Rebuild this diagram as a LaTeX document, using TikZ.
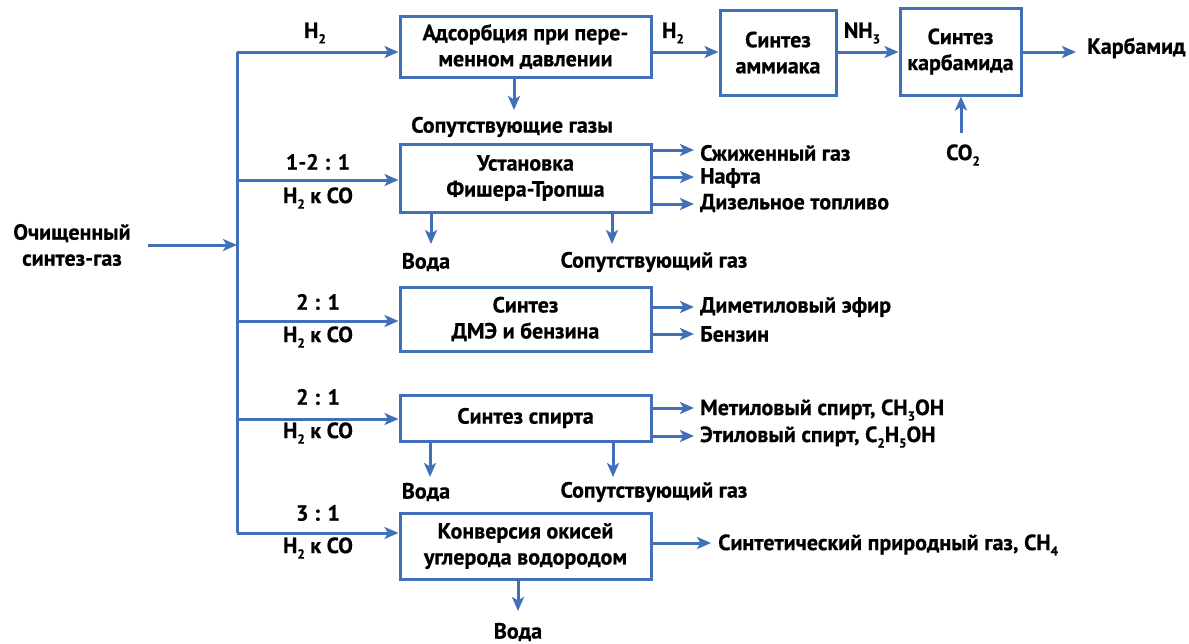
\documentclass[tikz,border=0pt]{standalone}
\usepackage{fontspec}
\setmainfont{PT Sans}[BoldFeatures={FakeBold=0.6}]
\usetikzlibrary{arrows.meta}
\definecolor{flow}{RGB}{66,112,184}
\newcommand\sbs[1]{\raisebox{-0.5ex}{\fontsize{13pt}{13pt}\selectfont#1}}
\begin{document}
\begin{tikzpicture}[x=1pt,y=-1pt,
  font=\fontsize{22pt}{26pt}\selectfont\bfseries,
  box/.style={draw=flow, line width=3pt, inner sep=0pt, align=center},
  arr/.style={draw=flow, line width=3pt, -{Stealth[length=14pt,width=12pt,inset=3.5pt]}},
  ln/.style={draw=flow, line width=3pt},
  lbl/.style={inner sep=0pt, align=center},
  lblw/.style={inner sep=0pt, anchor=west}]
\useasboundingbox (0,0) rectangle (1189,643);
% boxes
\node[box, minimum width=251pt, minimum height=61pt] (ads) at (525.5,46.5) {Адсорбция при пере-\\менном давлении};
\node[box, minimum width=116pt, minimum height=85pt] (amm) at (778,52.5) {Синтез\\аммиака};
\node[box, minimum width=121pt, minimum height=87pt] (urea) at (960.5,51.5) {Синтез\\карбамида};
\node[box, minimum width=251pt, minimum height=68pt] (ft) at (525.5,178) {Установка\\Фишера-Тропша};
\node[box, minimum width=251pt, minimum height=64pt] (dme) at (525.5,319) {Синтез\\ДМЭ и бензина};
\node[box, minimum width=251pt, minimum height=46pt] (alc) at (525.5,418) {Синтез спирта};
\node[box, minimum width=251pt, minimum height=66pt] (met) at (525.5,546) {Конверсия окисей\\углерода водородом};
% bus
\coordinate (btop) at (237,52);
\coordinate (b2) at (237,180);
\coordinate (bin) at (237,245);
\coordinate (b3) at (237,321);
\coordinate (b4) at (237,419);
\coordinate (bbot) at (237,533);
\draw[ln] (btop) -- (bbot);
\node[lbl] (feed) at (72,245) {Очищенный\\синтез-газ};
\coordinate (in) at (148,245);
\draw[arr] (in) -- (bin);
% branches
\draw[arr] (btop) -- (btop -| ads.west);
\draw[arr] (b2) -- (b2 -| ft.west);
\draw[arr] (b3) -- (b3 -| dme.west);
\draw[arr] (b4) -- (b4 -| alc.west);
\draw[arr] (bbot) -- (bbot -| met.west);
\node[lbl] (h2a) at (315,33) {H\sbs{2}};
\node[lbl] (r1) at (318,162) {1-2 : 1};
\node[lbl] (q1) at (318,198) {H\sbs{2} к CO};
\node[lbl] (r2) at (318,302) {2 : 1};
\node[lbl] (q2) at (318,337) {H\sbs{2} к CO};
\node[lbl] (r3) at (318,397) {2 : 1};
\node[lbl] (q3) at (318,433) {H\sbs{2} к CO};
\node[lbl] (r4) at (318,513) {3 : 1};
\node[lbl] (q4) at (318,548) {H\sbs{2} к CO};
% top chain
\coordinate (y52) at (0,52);
\draw[arr] (ads.east |- y52) -- (amm.west |- y52);
\draw[arr] (amm.east |- y52) -- (urea.west |- y52);
\coordinate (prod) at (1076,52);
\draw[arr] (urea.east |- y52) -- (prod);
\node[lbl] (h2b) at (673,33) {H\sbs{2}};
\node[lbl] (nh3) at (862,33) {NH\sbs{3}};
\node[lblw] (carb) at (1087,48) {Карбамид};
\coordinate (co2s) at (961,133);
\draw[arr] (co2s) -- (co2s |- urea.south);
\node[lbl] (co2) at (963,155) {CO\sbs{2}};
\coordinate (d0) at (514,110);
\draw[arr] (d0 |- ads.south) -- (d0);
\node[lbl] (soput0) at (512,127) {Сопутствующие газы};
% FT outputs
\coordinate (o1) at (694,150);
\coordinate (o2) at (694,177);
\coordinate (o3) at (694,204);
\draw[arr] (ft.east |- o1) -- (o1);
\draw[arr] (ft.east |- o2) -- (o2);
\draw[arr] (ft.east |- o3) -- (o3);
\node[lblw] (lpg) at (700,153) {Сжиженный газ};
\node[lblw] (naph) at (700,178) {Нафта};
\node[lblw] (dies) at (700,203) {Дизельное топливо};
\coordinate (d1) at (431,244);
\coordinate (d2) at (612,244);
\draw[arr] (d1 |- ft.south) -- (d1);
\draw[arr] (d2 |- ft.south) -- (d2);
\node[lbl] (w1) at (426,262) {Вода};
\node[lbl] (g1) at (654,262) {Сопутствующий газ};
% DME outputs
\coordinate (o4) at (694,307);
\coordinate (o5) at (694,334);
\draw[arr] (dme.east |- o4) -- (o4);
\draw[arr] (dme.east |- o5) -- (o5);
\node[lblw] (dmeo) at (700,307) {Диметиловый эфир};
\node[lblw] (benz) at (700,334) {Бензин};
% alcohol outputs
\coordinate (o6) at (694,408);
\coordinate (o7) at (694,436);
\draw[arr] (alc.east |- o6) -- (o6);
\draw[arr] (alc.east |- o7) -- (o7);
\node[lblw] (meth) at (700,410) {Метиловый спирт, CH\sbs{3}OH};
\node[lblw] (eth) at (700,437) {Этиловый спирт, C\sbs{2}H\sbs{5}OH};
\coordinate (d3) at (430,477);
\coordinate (d4) at (613,477);
\draw[arr] (d3 |- alc.south) -- (d3);
\draw[arr] (d4 |- alc.south) -- (d4);
\node[lbl] (w2) at (426,492) {Вода};
\node[lbl] (g2) at (654,492) {Сопутствующий газ};
% methanation
\coordinate (o8) at (711,543);
\draw[arr] (met.east |- o8) -- (o8);
\node[lblw] (sng) at (718,545) {Синтетический природный газ, CH\sbs{4}};
\coordinate (d5) at (518,611);
\draw[arr] (d5 |- met.south) -- (d5);
\node[lbl] (w3) at (518,632) {Вода};
\end{tikzpicture}
\end{document}
